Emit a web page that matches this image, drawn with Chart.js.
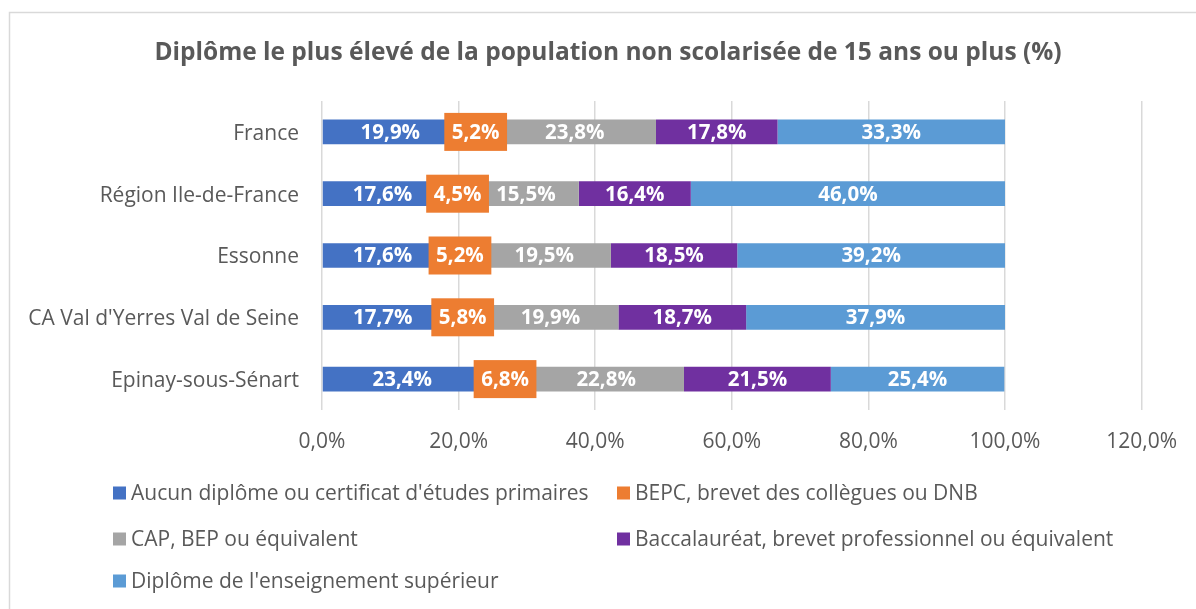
<!DOCTYPE html>
<html>
<head>
<meta charset="utf-8">
<script src="https://cdn.jsdelivr.net/npm/chart.js@4/dist/chart.umd.min.js"></script>
<style>
html,body{margin:0;padding:0;background:#fff;}
canvas{display:block;}
</style>
</head>
<body>
<canvas id="c" width="1196" height="609"></canvas>
<script>
const title = "Diplôme le plus élevé de la population non scolarisée de 15 ans ou plus (%)";
const categories = ["France", "Région Ile-de-France", "Essonne", "CA Val d'Yerres Val de Seine", "Epinay-sous-Sénart"];
const seriesNames = [
  "Aucun diplôme ou certificat d'études primaires",
  "BEPC, brevet des collègues ou DNB",
  "CAP, BEP ou équivalent",
  "Baccalauréat, brevet professionnel ou équivalent",
  "Diplôme de l'enseignement supérieur"
];
const aucun = [19.9, 17.6, 17.6, 17.7, 23.4];
const bepc = [5.2, 4.5, 5.2, 5.8, 6.8];
const cap = [23.8, 15.5, 19.5, 19.9, 22.8];
const bac = [17.8, 16.4, 18.5, 18.7, 21.5];
const sup = [33.3, 46.0, 39.2, 37.9, 25.4];
const xTicks = [0, 20, 40, 60, 80, 100, 120];
const colors = ["#4472C4", "#ED7D31", "#A5A5A5", "#7030A0", "#5B9BD5"];

const FONT = "'Open Sans', Lato, sans-serif";
const fmt = v => v.toFixed(1).replace('.', ',') + '%';

const seriesValues = [aucun, bepc, cap, bac, sup];

const framePlugin = {
  id: 'frame',
  beforeDraw(chart) {
    const ctx = chart.ctx;
    ctx.save();
    ctx.fillStyle = '#fff';
    ctx.fillRect(0, 0, chart.width, chart.height);
    ctx.strokeStyle = '#D9D9D9';
    ctx.lineWidth = 1.5;
    ctx.strokeRect(9.5, 12.5, chart.width + 20, chart.height + 20);
    ctx.font = "bold 24.5px " + FONT;
    ctx.fillStyle = '#595959';
    ctx.textAlign = 'center';
    ctx.textBaseline = 'middle';
    ctx.fillText(title, 608, 53);
    ctx.restore();
  }
};

const labelPlugin = {
  id: 'barLabels',
  afterDatasetsDraw(chart) {
    const ctx = chart.ctx;
    ctx.save();
    ctx.font = "bold 20.5px " + FONT;
    ctx.textAlign = 'center';
    ctx.textBaseline = 'middle';
    chart.data.datasets.forEach((ds, di) => {
      const meta = chart.getDatasetMeta(di);
      meta.data.forEach((el, i) => {
        const txt = fmt(ds.data[i]);
        const cx = (el.x + el.base) / 2;
        const cy = el.y;
        if (di === 1) {
          const w = ctx.measureText(txt).width + 15;
          ctx.fillStyle = colors[1];
          ctx.fillRect(cx - w / 2, cy - 19, w, 38);
        }
        ctx.fillStyle = '#fff';
        ctx.fillText(txt, cx, cy + 1);
      });
    });
    ctx.restore();
  }
};

const legendPlugin = {
  id: 'gridLegend',
  afterDraw(chart) {
    const ctx = chart.ctx;
    const colX = [113, 617];
    const rowY = [493, 539, 581];
    ctx.save();
    ctx.font = "21px " + FONT;
    ctx.textBaseline = 'middle';
    ctx.textAlign = 'left';
    chart.data.datasets.forEach((ds, i) => {
      const x = colX[i % 2];
      const y = rowY[Math.floor(i / 2)];
      ctx.fillStyle = ds.backgroundColor;
      ctx.fillRect(x, y - 6.5, 13, 13);
      ctx.fillStyle = '#595959';
      ctx.fillText(ds.label, x + 18, y + 1);
    });
    ctx.restore();
  }
};

new Chart(document.getElementById('c'), {
  type: 'bar',
  data: {
    labels: categories,
    datasets: seriesNames.map((n, i) => ({
      label: n,
      data: seriesValues[i],
      backgroundColor: colors[i],
      borderWidth: 0,
      barPercentage: 0.4,
      categoryPercentage: 1
    }))
  },
  options: {
    indexAxis: 'y',
    responsive: false,
    animation: false,
    devicePixelRatio: 1,
    layout: { padding: { left: 0, right: 54, top: 101, bottom: 0 } },
    plugins: {
      legend: { display: false },
      tooltip: { enabled: false },
      title: { display: false }
    },
    scales: {
      x: {
        stacked: true,
        min: 0,
        max: 120,
        afterBuildTicks(scale) { scale.ticks = xTicks.map(v => ({ value: v })); },
        afterFit(scale) { scale.height = 199; },
        grid: { color: '#D9D9D9', lineWidth: 1.5, drawTicks: false },
        border: { display: false },
        ticks: {
          color: '#595959',
          font: { family: FONT, size: 21 },
          padding: 19,
          callback: v => fmt(v)
        }
      },
      y: {
        stacked: true,
        afterFit(scale) { scale.width = 322; },
        grid: { display: false, drawTicks: false },
        border: { display: false },
        ticks: {
          color: '#595959',
          font: { family: FONT, size: 21 },
          padding: 23,
          labelOffset: 2
        }
      }
    }
  },
  plugins: [framePlugin, labelPlugin, legendPlugin]
});
</script>
</body>
</html>
